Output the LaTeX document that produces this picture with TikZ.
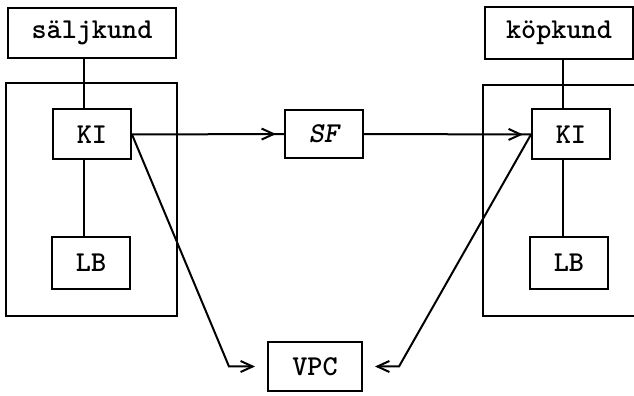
\documentclass[tikz,border=0pt]{standalone}
\usepackage{fontspec}
\usetikzlibrary{positioning}
\usetikzlibrary{calc}
\usetikzlibrary{arrows.meta}
\usetikzlibrary{decorations.markings}
\tikzset{
	every path/.style={line width=1pt},
	chev/.tip={Straight Barb[length=6pt,width=5.5pt,line width=1pt]},
	box/.style={draw,rectangle,inner sep=0pt,minimum width=39pt,minimum height=25pt,
		font=\ttfamily\bfseries\fontsize{14.4}{17}\selectfont},
	flow/.style={postaction={decorate},
		decoration={markings,mark=at position -4pt with {\arrow{chev}}}},
	tovpc/.style={-chev,shorten >=6pt},
}

\begin{document}
\begin{tikzpicture}[x=0.5pt,y=-0.5pt]
	\useasboundingbox (0,0) rectangle (634,396);

	%customer boxes...................
	\node [box,minimum width=84pt] (salj) at (92,33) {säljkund};
	\node [box,minimum width=74pt,minimum height=26pt] (kop) at (559,33) {köpkund};

	%frames...........................
	\draw (6,83) rectangle (177,316);
	\draw (640,85) -- (483,85) -- (483,316) -- (640,316);

	%inner boxes......................
	\node [box] (KIl) at (92,134.5) {KI};
	\node [box,minimum height=26pt] (LBl) at (91,263) {LB};
	\node [box] (KIr) at (571,134.5) {KI};
	\node [box,minimum height=26pt] (LBr) at (569,263) {LB};

	%middle boxes.....................
	\node [box,minimum height=24pt] (SF) at (324,134) {\itshape SF};
	\node [box,minimum width=47pt,minimum height=24.5pt] (VPC) at (315,366.5) {VPC};

	%vertical links...................
	\draw ([xshift=-4pt]KIl.north) -- ([xshift=-4pt]KIl.north |- salj.south);
	\draw ([xshift=-4pt]KIl.south) -- ([xshift=-4pt]KIl.south |- LBl.north);
	\draw ([xshift=-4pt]KIr.north) -- ([xshift=-4pt]KIr.north |- kop.south);
	\draw ([xshift=-4pt]KIr.south) -- ([xshift=-4pt]KIr.south |- LBr.north);

	%flows............................
	\draw [flow] (KIl.east) -- (SF.west);
	\draw [flow] (SF.east) -- (KIr.west);
	\draw [tovpc] (KIl.east) -- ($(VPC.west)+(-38,0)$) -- (VPC.west);
	\draw [tovpc] (KIr.west) -- ($(VPC.east)+(36,0)$) -- (VPC.east);

\end{tikzpicture}
\end{document}
